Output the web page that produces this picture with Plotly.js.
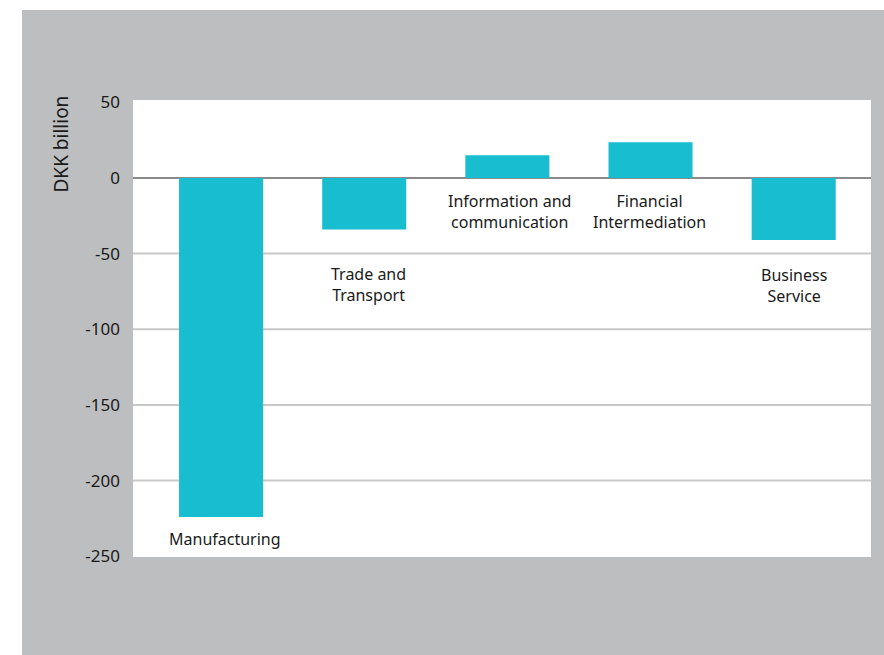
<!DOCTYPE html>
<html>
<head>
<meta charset="utf-8">
<script src="https://cdn.plot.ly/plotly-3.0.1.min.js"></script>
<style>html,body{margin:0;padding:0;background:#fff;}#chart{width:884px;height:655px;}</style>
</head>
<body>
<div id="chart"></div>
<script>
// Data
const categories = ["Manufacturing", "Trade and Transport", "Information and communication", "Financial Intermediation", "Business Service"];
const labelTexts = ["Manufacturing", "Trade and<br>Transport", "Information and<br>communication", "Financial<br>Intermediation", "Business<br>Service"];
const values = [-224, -34, 15, 23.5, -41];
const tickValues = [50, 0, -50, -100, -150, -200, -250];
const tickLabels = ["50", "0", "-50", "-100", "-150", "-200", "-250"];
const gridValues = [-50, -100, -150, -200];

// Style
const FONT = "Noto Sans, sans-serif";
const GRAY = "#bdbec0";
const BAR = "#19bdd0";
const labelShift = [-9, -32, -10, -10, -22];
const labelXShift = [4, 4, 2, -1, 0];

const trace = {
  type: "bar",
  x: categories,
  y: values,
  width: 0.587,
  marker: {color: BAR, line: {width: 0}},
  hoverinfo: "x+y"
};

const shapes = [
  {type: "rect", xref: "paper", yref: "paper", x0: -0.2, x1: (22 - 133) / 738, y0: -0.3, y1: 1.3, fillcolor: "#ffffff", line: {width: 0}, layer: "above"},
  {type: "rect", xref: "paper", yref: "paper", x0: -0.2, x1: 1.1, y0: (557 - 10) / 457, y1: 1.3, fillcolor: "#ffffff", line: {width: 0}, layer: "above"}
];
gridValues.forEach(v => shapes.push({
  type: "line", xref: "paper", yref: "y", x0: 0, x1: 1, y0: v, y1: v,
  line: {color: "#c8c8c8", width: 2}, layer: "below"
}));

const annotations = categories.map((c, i) => ({
  x: c, y: Math.min(values[i], 0), xref: "x", yref: "y",
  text: labelTexts[i], showarrow: false,
  xanchor: "center", yanchor: "top", yshift: labelShift[i], xshift: labelXShift[i],
  font: {family: FONT, size: 16, color: "#1a1a1a"}
}));
annotations.push({
  xref: "paper", yref: "paper", x: (60 - 133) / 738, y: (557 - 144.5) / 457,
  text: "DKK billion", textangle: -90, showarrow: false,
  xanchor: "center", yanchor: "middle",
  font: {family: FONT, size: 19, color: "#1a1a1a"}
});

const layout = {
  width: 884, height: 655,
  margin: {l: 133, r: 13, t: 100, b: 98, pad: 0},
  paper_bgcolor: GRAY,
  plot_bgcolor: "#ffffff",
  showlegend: false,
  xaxis: {
    type: "category", range: [-0.615, 4.54],
    showticklabels: false, showgrid: false, zeroline: false, showline: false, ticks: ""
  },
  yaxis: {
    range: [-250.5, 51.5],
    tickvals: tickValues, ticktext: tickLabels,
    showgrid: false, zeroline: true, zerolinecolor: "#8a8a8a", zerolinewidth: 2.5,
    showline: false, ticks: "", ticklabelstandoff: 12,
    tickfont: {family: FONT, size: 17, color: "#1a1a1a"}
  },
  shapes: shapes,
  annotations: annotations
};

Plotly.newPlot("chart", [trace], layout, {displayModeBar: false, staticPlot: true});
</script>
</body>
</html>
